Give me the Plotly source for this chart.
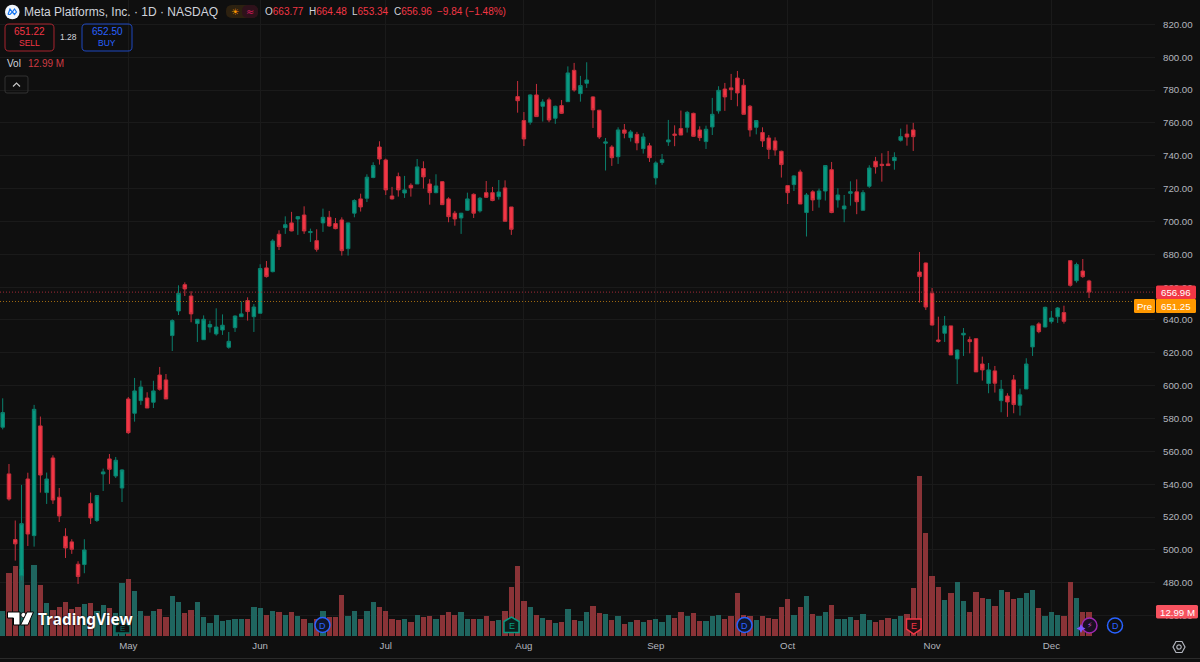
"""
Meta Platforms daily candles with volume, dark trading terminal look
"""

import plotly.graph_objects as go

# Candle values
opens = [
    574.7, 546.3, 506.3, 484.2, 543.2, 508.7, 575.5, 534.9, 556.0, 532.1,
    508.3, 504.9, 491.3, 491.1, 528.2, 517.9, 546.3, 555.4, 545.0, 537.7,
    591.9, 583.2, 590.9, 592.5, 589.9, 606.5, 603.5, 630.5, 645.5, 661.5,
    654.6, 637.8, 628.0, 635.7, 631.5, 633.9, 623.4, 635.3, 642.0, 651.8,
    642.0, 644.1, 671.7, 669.4, 692.2, 696.2, 699.1, 701.5, 703.9, 693.2,
    688.3, 699.1, 702.5, 698.7, 700.9, 683.4, 705.0, 713.7, 714.1, 726.7,
    745.3, 737.4, 715.5, 727.3, 717.3, 722.0, 722.8, 732.2, 722.8, 717.5,
    724.2, 713.7, 705.0, 702.1, 706.8, 716.5, 706.4, 717.5, 717.5, 715.1,
    720.4, 708.8, 776.0, 761.4, 760.4, 777.0, 770.1, 774.0, 762.8, 770.5,
    772.9, 792.0, 777.8, 784.1, 775.8, 767.7, 747.6, 745.3, 739.4, 755.7,
    751.0, 753.0, 744.3, 746.0, 726.5, 735.8, 748.4, 753.2, 756.5, 757.3,
    765.8, 755.7, 748.6, 757.5, 767.3, 780.6, 781.3, 787.3, 782.9, 770.1,
    757.3, 754.1, 750.8, 749.0, 742.7, 721.8, 722.4, 730.1, 705.4, 718.0,
    713.5, 718.5, 731.5, 713.1, 707.6, 717.1, 718.0, 706.8, 721.4, 736.6,
    734.8, 735.0, 737.0, 749.4, 753.2, 755.7, 669.2, 674.7, 656.2, 627.8,
    631.9, 636.4, 616.3, 630.9, 628.0, 628.6, 613.2, 601.3, 609.0, 590.9,
    593.7, 603.5, 588.1, 598.0, 623.6, 637.6, 635.7, 639.0, 642.0, 644.5,
    676.1, 663.9, 669.8, 663.77,
]
highs = [
    592.3, 552.3, 517.9, 539.6, 547.0, 588.3, 581.2, 547.1, 557.6, 537.7,
    513.2, 506.5, 493.1, 506.5, 534.9, 533.3, 549.5, 558.4, 556.6, 549.1,
    593.1, 604.7, 603.1, 596.0, 603.0, 611.4, 607.1, 640.4, 661.1, 662.9,
    657.5, 640.4, 642.8, 639.6, 647.1, 643.4, 632.7, 642.8, 651.2, 653.8,
    649.7, 673.9, 675.9, 689.2, 694.6, 703.1, 705.8, 703.3, 709.2, 695.6,
    695.2, 707.8, 706.4, 702.1, 702.5, 699.3, 713.5, 716.9, 728.7, 736.0,
    748.8, 738.2, 721.0, 729.7, 727.7, 723.2, 738.0, 736.6, 725.7, 728.7,
    724.6, 714.7, 706.4, 705.2, 717.5, 717.1, 714.9, 724.6, 721.0, 725.2,
    725.0, 708.8, 785.5, 766.6, 777.4, 783.7, 774.4, 775.4, 770.5, 773.9,
    794.4, 796.5, 788.6, 796.9, 776.2, 767.9, 750.8, 746.4, 757.3, 759.3,
    755.7, 754.5, 753.7, 747.8, 736.6, 741.1, 761.8, 758.5, 767.5, 767.3,
    766.2, 757.9, 758.3, 775.2, 782.3, 784.3, 789.8, 791.6, 786.7, 770.9,
    761.6, 757.3, 752.6, 751.2, 743.1, 722.0, 728.1, 731.5, 717.3, 719.0,
    720.0, 734.2, 736.2, 720.2, 716.1, 724.4, 725.6, 719.0, 734.2, 739.3,
    741.5, 742.9, 742.1, 756.5, 759.0, 760.0, 681.4, 674.9, 659.5, 642.0,
    642.4, 636.4, 622.0, 635.1, 629.9, 628.8, 617.7, 613.8, 612.0, 603.5,
    595.4, 606.5, 598.2, 616.7, 636.4, 638.6, 648.1, 645.5, 647.9, 648.7,
    676.3, 674.9, 677.1, 664.48,
]
lows = [
    573.4, 530.0, 493.5, 481.3, 502.4, 502.0, 534.9, 528.0, 528.0, 517.0,
    495.1, 497.6, 479.3, 485.8, 515.8, 517.0, 535.9, 540.2, 543.8, 529.2,
    570.6, 578.1, 588.3, 586.4, 586.4, 597.0, 591.9, 621.1, 643.0, 654.6,
    638.6, 626.6, 627.8, 632.3, 630.5, 630.9, 622.5, 632.7, 642.0, 639.6,
    632.7, 644.0, 665.8, 669.0, 682.6, 692.4, 694.0, 691.8, 692.4, 687.5,
    681.6, 693.6, 696.8, 695.2, 679.2, 679.2, 702.5, 706.0, 711.8, 726.3,
    734.6, 716.1, 713.3, 715.1, 714.3, 715.1, 722.8, 720.0, 710.2, 717.1,
    710.2, 699.5, 697.4, 692.4, 706.4, 702.1, 705.4, 714.3, 712.3, 713.3,
    700.1, 691.8, 766.2, 745.9, 758.9, 763.8, 760.8, 760.4, 759.4, 765.4,
    772.7, 779.0, 772.9, 781.3, 756.9, 750.2, 731.0, 733.8, 735.0, 750.6,
    748.6, 743.3, 741.3, 736.2, 722.4, 734.4, 746.0, 745.8, 752.6, 754.1,
    751.6, 749.0, 744.1, 752.6, 765.6, 767.3, 773.9, 770.1, 765.2, 751.6,
    753.0, 745.3, 738.0, 740.0, 726.7, 710.6, 718.5, 710.6, 690.8, 706.4,
    708.4, 712.7, 705.0, 708.4, 699.5, 709.6, 704.4, 706.6, 720.4, 729.1,
    724.2, 733.8, 731.5, 748.6, 746.1, 742.9, 650.6, 646.1, 636.6, 626.2,
    626.6, 618.7, 601.0, 618.1, 619.7, 608.4, 603.1, 595.4, 595.8, 583.8,
    581.0, 583.2, 581.8, 598.0, 618.1, 631.9, 635.5, 637.8, 638.2, 637.8,
    660.3, 662.7, 665.6, 653.34,
]
closes = [
    583.6, 531.0, 503.7, 516.0, 509.7, 585.6, 545.6, 543.2, 530.4, 520.7,
    501.2, 500.4, 483.8, 500.0, 519.5, 533.1, 547.5, 549.1, 554.6, 548.7,
    571.4, 596.8, 599.2, 586.4, 596.8, 597.8, 591.9, 639.6, 656.2, 658.9,
    643.7, 640.4, 640.4, 637.2, 635.7, 636.8, 627.0, 642.4, 643.7, 645.1,
    647.9, 671.3, 666.4, 688.1, 684.7, 698.0, 694.2, 702.9, 694.2, 693.8,
    683.0, 702.5, 697.2, 695.6, 682.2, 699.1, 712.7, 708.8, 726.9, 734.0,
    738.0, 719.2, 713.7, 719.2, 719.2, 720.4, 733.2, 727.1, 717.5, 721.6,
    710.2, 702.9, 701.5, 705.0, 713.7, 705.0, 714.1, 714.7, 712.7, 717.9,
    700.1, 695.2, 773.5, 750.2, 777.0, 763.8, 772.7, 761.8, 770.1, 765.8,
    790.4, 780.0, 782.7, 786.1, 767.9, 751.4, 748.4, 738.8, 755.7, 753.7,
    754.5, 747.8, 751.4, 738.8, 735.6, 737.6, 749.6, 752.4, 752.6, 766.4,
    751.8, 751.0, 756.1, 765.2, 779.8, 775.8, 780.2, 778.2, 765.2, 755.7,
    761.4, 749.0, 743.9, 743.5, 734.6, 717.5, 727.7, 710.6, 716.1, 713.1,
    718.5, 734.0, 705.4, 716.1, 709.4, 718.1, 712.0, 717.5, 732.5, 733.2,
    734.0, 734.0, 739.0, 751.6, 751.4, 751.6, 666.4, 647.9, 636.9, 627.0,
    636.4, 618.7, 621.7, 631.9, 626.8, 608.4, 609.6, 609.6, 601.5, 597.8,
    590.1, 588.5, 594.4, 613.2, 636.4, 632.9, 647.7, 641.2, 647.3, 639.2,
    661.1, 673.7, 666.4, 656.96,
]
# Volume in millions of shares
volumes = [
    13.2, 33.5, 37.6, 35.8, 27.4, 37.9, 27.4, 17.4, 13.9, 15.3,
    18.3, 14.4, 15.7, 17.1, 17.8, 13.5, 16.6, 14.8, 12.1, 28.5,
    30.3, 23.9, 13.5, 10.7, 13.2, 14.6, 10.3, 21.4, 18.3, 12.5,
    14.1, 18.3, 10.0, 6.8, 11.4, 7.8, 8.5, 9.3, 8.9, 8.9,
    15.7, 15.1, 11.4, 13.5, 12.6, 11.4, 12.6, 10.5, 9.3, 7.1,
    9.1, 13.5, 10.0, 10.3, 22.1, 10.9, 13.5, 9.3, 13.5, 18.3,
    15.3, 13.2, 9.3, 8.5, 9.3, 7.7, 11.4, 10.0, 10.5, 8.9,
    11.4, 12.6, 11.4, 12.6, 9.3, 8.9, 8.9, 10.5, 8.2, 8.7,
    13.2, 26.3, 37.6, 18.7, 15.3, 11.4, 9.8, 8.7, 7.1, 7.7,
    14.4, 8.7, 8.0, 13.0, 16.2, 12.3, 11.7, 8.7, 10.5, 6.6,
    7.7, 8.5, 7.7, 8.7, 9.3, 7.7, 11.4, 9.8, 12.6, 10.9,
    12.3, 8.0, 8.0, 10.5, 11.4, 9.3, 10.9, 23.0, 11.4, 10.5,
    8.7, 10.5, 9.8, 9.3, 15.7, 19.9, 11.4, 15.7, 21.2, 11.7,
    10.7, 12.8, 16.6, 9.3, 8.9, 10.0, 8.7, 11.7, 8.7, 7.5,
    8.7, 9.8, 9.3, 10.9, 11.9, 25.8, 85.8, 55.0, 31.9, 26.3,
    19.4, 23.0, 28.8, 18.7, 13.0, 23.7, 20.5, 19.9, 16.2, 24.6,
    23.7, 19.9, 20.5, 23.0, 24.6, 14.8, 10.9, 12.6, 11.4, 10.9,
    29.0, 20.6, 13.0, 12.99,
]

month_ticks = [20, 41, 61, 83, 104, 125, 148, 167]
month_labels = ["May", "Jun", "Jul", "Aug", "Sep", "Oct", "Nov", "Dec"]
price_ticks = list(range(460, 821, 20))
last_close = 656.96
pre_close = 651.25

BG = "#0f0f0f"
GRID = "#1a1a1a"
GREEN = "#089981"
RED = "#f23645"
ORANGE = "#ff9800"
BLUE = "#2962ff"
TEXT = "#d1d4dc"
AXIS_TEXT = "#b2b5be"
FONT = "Liberation Sans, sans-serif"

# Plot area in screen pixels, overlays below are placed from these
PLOT_W = 1155
PLOT_H = 636


def fx(px):
    return px / PLOT_W


def fy(py):
    return 1 - py / PLOT_H


def label(px, py, text, size=10, color=TEXT, anchor="left", family=FONT, shadow=None):
    font = dict(family=family, size=size, color=color)
    if shadow:
        font["shadow"] = shadow
    return dict(
        xref="paper", yref="paper", x=fx(px), y=fy(py), text=text,
        showarrow=False, xanchor=anchor, yanchor="middle",
        font=font, borderpad=0,
    )


def path_shape(points, line=None, fill=None, width=1, closed=True):
    d = "M " + " L ".join(f"{fx(x):.5f},{fy(y):.5f}" for x, y in points)
    if closed:
        d += " Z"
    return dict(
        type="path", xref="paper", yref="paper", path=d,
        line=dict(color=line or "rgba(0,0,0,0)", width=width),
        fillcolor=fill or "rgba(0,0,0,0)",
    )


def round_box(x0, y0, x1, y1, r, line=None, fill=None, width=1):
    # corners as quadratic curves
    p = lambda x, y: f"{fx(x):.5f},{fy(y):.5f}"
    d = (
        f"M {p(x0 + r, y0)} L {p(x1 - r, y0)} Q {p(x1, y0)} {p(x1, y0 + r)} "
        f"L {p(x1, y1 - r)} Q {p(x1, y1)} {p(x1 - r, y1)} "
        f"L {p(x0 + r, y1)} Q {p(x0, y1)} {p(x0, y1 - r)} "
        f"L {p(x0, y0 + r)} Q {p(x0, y0)} {p(x0 + r, y0)} Z"
    )
    return dict(
        type="path", xref="paper", yref="paper", path=d,
        line=dict(color=line or "rgba(0,0,0,0)", width=width),
        fillcolor=fill or "rgba(0,0,0,0)",
    )


def circle(cx, cy, r, line=None, fill=None, width=1.5):
    return dict(
        type="circle", xref="paper", yref="paper",
        x0=fx(cx - r), x1=fx(cx + r), y0=fy(cy + r), y1=fy(cy - r),
        line=dict(color=line or "rgba(0,0,0,0)", width=width),
        fillcolor=fill or "rgba(0,0,0,0)",
    )


xs = list(range(len(closes)))
bar_colors = ["#1f655f" if c >= o else "#8a3337" for o, c in zip(opens, closes)]

fig = go.Figure()

fig.add_trace(go.Bar(
    x=xs, y=volumes, width=0.84, yaxis="y",
    marker=dict(color=bar_colors, line=dict(width=0)),
    hoverinfo="skip", showlegend=False,
))

fig.add_trace(go.Candlestick(
    x=xs, open=opens, high=highs, low=lows, close=closes, yaxis="y2",
    whiskerwidth=0,
    increasing=dict(line=dict(color="#0b7f6d", width=1), fillcolor=GREEN),
    decreasing=dict(line=dict(color="#c72f3c", width=1), fillcolor=RED),
    showlegend=False,
))

shapes = [
    dict(type="line", xref="paper", yref="y2", x0=0, x1=1,
         y0=last_close, y1=last_close,
         line=dict(color="#a12a36", width=1, dash="1px,2px")),
    dict(type="line", xref="paper", yref="y2", x0=0, x1=1,
         y0=pre_close, y1=pre_close,
         line=dict(color="#a06a12", width=1, dash="1px,2px")),
    dict(type="line", xref="paper", yref="paper", x0=0, x1=fx(1200),
         y0=fy(658.5), y1=fy(658.5), line=dict(color="#2a2a2a", width=1)),
    # header badges
    round_box(226, 5, 258, 18, 6, fill="#2d2110"),
    round_box(242, 5, 258, 18, 6, fill="#2f111b"),
    round_box(5, 24, 54, 51, 4, line="#a8242f", width=1),
    round_box(82, 24, 132, 51, 4, line="#1f49c0", width=1),
    round_box(5, 76, 28, 93, 2, line="#333333", width=1),
    path_shape([(13, 86.5), (16.5, 83), (20, 86.5)], line="#c8c8c8", width=1.2, closed=False),
    # meta logo
    circle(12.3, 12, 7.3, fill="#f2f6fb", width=0),
    path_shape([(8, 14.5), (10, 9), (12.3, 12), (14.5, 14.5), (16.5, 12), (14.5, 9), (12.3, 12), (10, 14.5), (8, 14.5)],
               line="#1877f2", width=1.2, closed=False),
    # tradingview mark
    path_shape([(7.5, 612), (20, 612), (20, 625), (13.5, 625), (13.5, 618), (7.5, 618)],
               fill="#ffffff", line="#000000", width=1),
    circle(23.5, 615, 2.6, fill="#ffffff", line="#000000", width=0.8),
    path_shape([(27, 612), (33.5, 612), (28, 625), (20.5, 625)],
               fill="#ffffff", line="#000000", width=1),
    # price scale tags
    round_box(1156, 285.5, 1196, 299, 1.5, fill=RED),
    round_box(1156, 299, 1196, 313, 1.5, fill=ORANGE),
    round_box(1134, 299, 1155, 313, 1.5, fill=ORANGE),
    round_box(1156, 605, 1198, 618.5, 1.5, fill="#f7525f"),
    # event markers
    path_shape([(115, 626), (122.5, 621), (130, 626), (130, 633), (115, 633)],
               line="#0b6e60", fill=BG, width=1.5),
    circle(322.5, 625, 7.5, line=BLUE, fill="#10162b"),
    path_shape([(504, 621.5), (511.5, 617), (519, 621.5), (519, 632.5), (504, 632.5)],
               line="#089981", fill="#0b1f1c", width=1.5),
    circle(744.5, 625, 7.5, line=BLUE, fill="#10162b"),
    path_shape([(906.5, 619), (921, 619), (921, 629), (913.7, 634), (906.5, 629)],
               line=RED, fill="#241014", width=1.5),
    circle(1089.5, 625.5, 7.5, line="#9c27b0", fill="#1a0f22"),
    path_shape([(1081, 624), (1082.5, 627), (1085.5, 628.5), (1082.5, 630), (1081, 633),
                (1079.5, 630), (1076.5, 628.5), (1079.5, 627)], fill="#7e57ff"),
    circle(1115, 625.5, 7.5, line=BLUE),
    # settings hexagon
    path_shape([(1173, 647), (1176, 641.5), (1182, 641.5), (1185, 647), (1182, 652.5), (1176, 652.5)],
               line="#b2b5be", width=1.2),
    circle(1179, 647, 2.2, line="#b2b5be", width=1.2),
]


def ohlc(letter, value):
    return f"{letter}<span style='color:#f23645'>{value}</span>"


annotations = [
    label(23, 12, "Meta Platforms, Inc. · 1D · NASDAQ", size=12),
    label(235, 11.5, "☀", size=9, color=ORANGE, anchor="center", family="DejaVu Sans"),
    label(249.5, 11.5, "≈", size=10, color="#d81b60", anchor="center", family="DejaVu Sans"),
    label(264, 12, ohlc("O", "663.77")),
    label(308, 12, ohlc("H", "664.48")),
    label(351, 12, ohlc("L", "653.34")),
    label(393, 12, ohlc("C", "656.96")),
    label(436, 12, "−9.84 (−1.48%)", color=RED),
    label(29.5, 32, "651.22", color=RED, anchor="center"),
    label(29.5, 43, "SELL", size=8.5, color=RED, anchor="center"),
    label(68, 37, "1.28", size=8.5, color=TEXT, anchor="center"),
    label(107, 32, "652.50", color=BLUE, anchor="center"),
    label(107, 43, "BUY", size=8.5, color=BLUE, anchor="center"),
    label(6, 64, "Vol"),
    label(27, 64, "12.99 M", color="#cc3b43"),
    label(37, 619, "<b>TradingView</b>", size=15.4, color="#ffffff", family="Noto Sans",
          shadow="0 0 2px #000000"),
    label(122.5, 628.5, "E", size=8, color="#0b6e60", anchor="center"),
    label(322.5, 625.5, "D", size=9, color=BLUE, anchor="center"),
    label(511.5, 626, "E", size=9, color=GREEN, anchor="center"),
    label(744.5, 625.5, "D", size=9, color=BLUE, anchor="center"),
    label(913.7, 626, "E", size=9, color=RED, anchor="center"),
    label(1089.5, 625.5, "⚡", size=8, color="#c04fd8", anchor="center", family="DejaVu Sans"),
    label(1115, 625.5, "D", size=9, color=BLUE, anchor="center"),
    label(1176, 292.2, "656.96", size=9.7, color="#ffffff", anchor="center"),
    label(1176, 306, "651.25", size=9.7, color="#ffffff", anchor="center"),
    label(1144.5, 306, "Pre", size=9.7, color="#ffffff", anchor="center"),
    label(1177, 612, "12.99 M", size=9.7, color="#ffffff", anchor="center"),
]

fig.update_layout(
    width=1200, height=662, autosize=False,
    margin=dict(l=0, r=1200 - PLOT_W, t=0, b=662 - PLOT_H),
    paper_bgcolor=BG, plot_bgcolor=BG,
    font=dict(family=FONT, size=10, color=AXIS_TEXT),
    showlegend=False, bargap=0, boxgap=0.2,
    xaxis=dict(
        range=[-0.43, 183.5], tickmode="array", tickvals=month_ticks,
        ticktext=month_labels, showgrid=True, gridcolor=GRID, gridwidth=1,
        zeroline=False, showline=False, ticks="", ticklabelstandoff=2,
        tickfont=dict(size=9.7, color=AXIS_TEXT, family=FONT),
        rangeslider=dict(visible=False),
    ),
    yaxis=dict(range=[0, 340.3], visible=False, fixedrange=True),
    yaxis2=dict(
        range=[447.6, 834.8], overlaying="y", side="right",
        tickmode="array", tickvals=price_ticks,
        ticktext=[f"{p:.2f}" for p in price_ticks],
        showgrid=True, gridcolor=GRID, gridwidth=1, zeroline=False,
        showline=False, ticks="", ticklabelstandoff=7,
        tickfont=dict(size=9.7, color=AXIS_TEXT, family=FONT),
    ),
    shapes=shapes, annotations=annotations,
)

fig.write_html(
    "out.html",
    config={"displayModeBar": False},
    post_script="document.body.style.margin='0';document.body.style.background='#0f0f0f';",
)
